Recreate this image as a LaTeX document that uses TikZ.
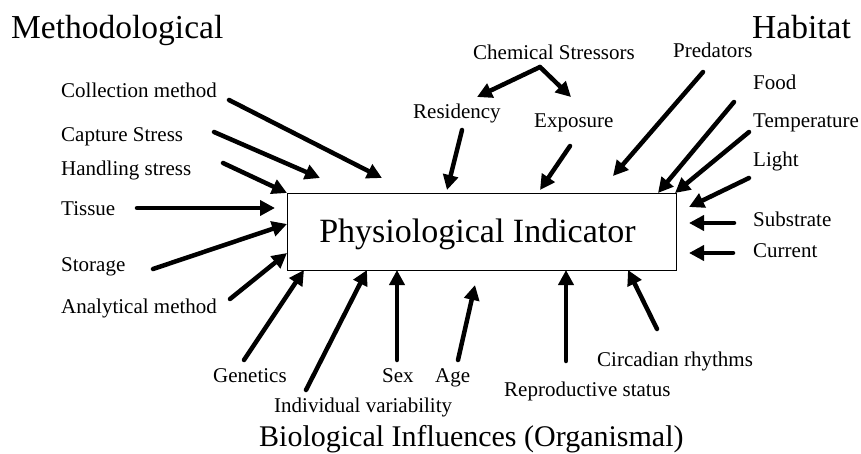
\documentclass[tikz,border=0pt]{standalone}
\usepackage{fontspec}
\setmainfont{Liberation Serif}
\usetikzlibrary{arrows.meta}
\begin{document}
\begin{tikzpicture}[x=1pt,y=-1pt,
  lbl/.style={anchor=base west,inner sep=0pt,font=\fontsize{21}{25}\selectfont},
  ttl/.style={anchor=base west,inner sep=0pt,font=\fontsize{33.5}{40}\selectfont},
  arr/.style={line width=4.5pt,line cap=round,-{Triangle[length=15pt,width=15pt]}},
  ]
\useasboundingbox (0,0) rectangle (861,454);
% central box
\node[draw, line width=1.2pt, minimum width=389pt, minimum height=77pt, inner sep=0pt,
      anchor=north west] (box) at (287,193) {};
\node[anchor=base, inner sep=0pt, font=\fontsize{34}{40}\selectfont] (boxtext) at (477.5,242) {Physiological Indicator};
% titles
\node[ttl] (meth) at (11,39) {Methodological};
\node[ttl] (hab) at (752,39) {Habitat};
\node[anchor=base west,inner sep=0pt,font=\fontsize{30}{36}\selectfont] (bio) at (259,446) {Biological Influences (Organismal)};
% labels
\node[lbl] (coll) at (61,98) {Collection method};
\node[lbl] (capt) at (61,142) {Capture Stress};
\node[lbl] (hand) at (61,176) {Handling stress};
\node[lbl] (tiss) at (61,215) {Tissue};
\node[lbl] (stor) at (61,271) {Storage};
\node[lbl] (anal) at (61,313) {Analytical method};
\node[lbl] (gene) at (213,382) {Genetics};
\node[lbl] (indi) at (274,412) {Individual variability};
\node[lbl] (sex) at (382,382) {Sex};
\node[lbl] (age) at (435,382) {Age};
\node[lbl] (repr) at (504,396) {Reproductive status};
\node[lbl] (circ) at (597,366) {Circadian rhythms};
\node[lbl] (curr) at (753,258) {Current};
\node[lbl] (subs) at (753,226) {Substrate};
\node[lbl] (ligh) at (753,167) {Light};
\node[lbl] (temp) at (753,128) {Temperature};
\node[lbl] (food) at (753,90) {Food};
\node[lbl] (pred) at (673,58) {Predators};
\node[lbl] (chem) at (473,60) {Chemical Stressors};
\node[lbl] (expo) at (534,128) {Exposure};
\node[lbl] (resi) at (413,119) {Residency};
% arrow end points
\coordinate (a1) at (229,100);  \coordinate (b1) at (382,178);
\coordinate (a2) at (214,132);  \coordinate (b2) at (320,178);
\coordinate (a3) at (223,163);  \coordinate (b3) at (287,193);
\coordinate (a4) at (137,208);  \coordinate (b4) at (275,208);
\coordinate (a5) at (153,269);  \coordinate (b5) at (287,224);
\coordinate (a6) at (230,299);  \coordinate (b6) at (287,253);
\coordinate (a7) at (244,360);  \coordinate (b7) at (304,270);
\coordinate (a8) at (306,390);  \coordinate (b8) at (367,270);
\coordinate (a9) at (397,360);  \coordinate (b9) at (397,270);
\coordinate (a10) at (458,360); \coordinate (b10) at (475,285);
\coordinate (a11) at (566,361); \coordinate (b11) at (566,270);
\coordinate (a12) at (657,329); \coordinate (b12) at (628,270);
\coordinate (a13) at (733,253); \coordinate (b13) at (689,253);
\coordinate (a14) at (734,223); \coordinate (b14) at (689,223);
\coordinate (a15) at (749,178); \coordinate (b15) at (689,207);
\coordinate (a16) at (749,132); \coordinate (b16) at (675,193);
\coordinate (a17) at (734,102); \coordinate (b17) at (658,193);
\coordinate (a18) at (703,72);  \coordinate (b18) at (613,176);
\coordinate (a19) at (570,146); \coordinate (b19) at (540,190);
\coordinate (a20) at (462,130); \coordinate (b20) at (447,190);
\coordinate (a21) at (540,67);  \coordinate (b21) at (477,97);
\coordinate (b22) at (571,97);
% arrows
\foreach \i in {1,...,21} {\draw[arr] (a\i) -- (b\i);}
\draw[arr] (a21) -- (b22);
\end{tikzpicture}
\end{document}
